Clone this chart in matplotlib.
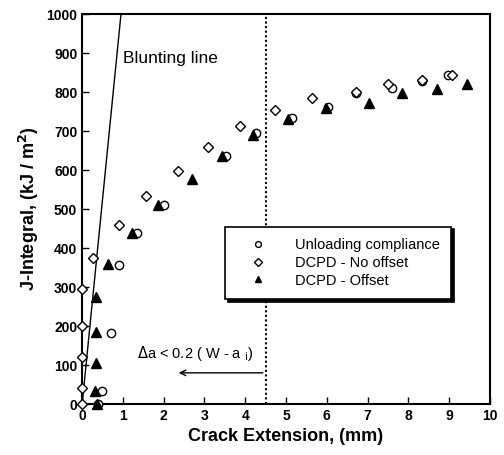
import numpy as np
import matplotlib.pyplot as plt

plt.rcParams['font.family'] = ['Liberation Sans', 'DejaVu Sans']

# Unloading compliance
uc_da = [0.39, 0.49, 0.70, 0.90, 1.35, 2.00, 3.53, 4.27, 5.15, 6.03, 6.72, 7.60, 8.33, 8.97]
uc_j = [0, 33, 182, 356, 438, 510, 636, 695, 733, 762, 797, 810, 828, 843]

# DCPD - no offset
no_da = [0.0, 0.0, 0.0, 0.0, 0.0, 0.27, 0.90, 1.57, 2.35, 3.09, 3.87, 4.73, 5.64, 6.72, 7.50, 8.33, 9.07]
no_j = [0, 41, 120, 200, 295, 375, 459, 533, 597, 659, 713, 754, 785, 800, 820, 830, 843]

# DCPD - offset
of_da = [0.37, 0.32, 0.34, 0.34, 0.34, 0.63, 1.22, 1.86, 2.70, 3.43, 4.20, 5.05, 5.98, 7.03, 7.84, 8.70, 9.44]
of_j = [0, 33, 105, 185, 275, 359, 438, 510, 577, 636, 690, 731, 759, 772, 797, 807, 820]

blunt_slope = 1050.0   # kJ/m^2 per mm
da_limit = 4.5

fig = plt.figure(figsize=(5.04, 4.55), dpi=100)
ax = fig.add_axes([0.163, 0.112, 0.809, 0.857])

ax.plot(uc_da, uc_j, 'o', mfc='white', mec='black', ms=6, mew=1.0,
        label='Unloading compliance', zorder=3, clip_on=False)
ax.plot(no_da, no_j, 'D', mfc='white', mec='black', ms=5.5, mew=1.0,
        label='DCPD - No offset', zorder=3, clip_on=False)
ax.plot(of_da, of_j, '^', mfc='black', mec='black', ms=7,
        label='DCPD - Offset', zorder=4, clip_on=False)

xb = np.array([0, 1000 / blunt_slope])
ax.plot(xb, blunt_slope * xb, 'k-', lw=1.0)
ax.text(1.0, 885, 'Blunting line', fontsize=12.5, va='center')

ax.axvline(da_limit, color='black', ls=(0, (1, 1.2)), lw=1.5)
ax.annotate('', xy=(2.3, 80), xytext=(da_limit, 80),
            arrowprops=dict(arrowstyle='->', color='black', lw=1.0))
ax.text(1.35, 130, r'$\Delta$a < 0.2 ( W - a $_{\rm i}$)', fontsize=10.5, va='center')

ax.set_xlim(0, 10)
ax.set_ylim(0, 1000)
ax.set_xticks(range(0, 11))
ax.set_yticks(range(0, 1001, 100))
ax.tick_params(direction='in', length=5, width=1, labelsize=10)
for lbl in ax.get_xticklabels() + ax.get_yticklabels():
    lbl.set_fontweight('bold')
for s in ax.spines.values():
    s.set_linewidth(1.5)

ax.set_xlabel('Crack Extension, (mm)', fontsize=13, fontweight='bold')
ax.set_ylabel('J-Integral, (kJ / m$^\\mathbf{2}$)', fontsize=13, fontweight='bold')

leg = ax.legend(loc='upper left', bbox_to_anchor=(0.35, 0.455), fontsize=10.5,
                fancybox=False, shadow={'color': 'black', 'alpha': 1},
                framealpha=1, edgecolor='black',
                markerscale=0.7, handlelength=3.0, handletextpad=1.0,
                borderpad=0.8, labelspacing=0.25, borderaxespad=0)
leg.get_frame().set_linewidth(1.2)

fig.savefig('out.png', dpi=100)
